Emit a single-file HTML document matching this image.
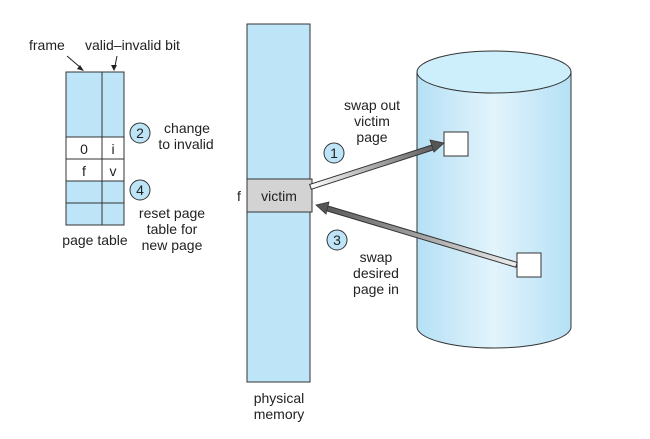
<!DOCTYPE html>
<html><head><style>
body{margin:0;background:#fff;}
svg text{font-family:"Liberation Sans",sans-serif;font-size:14px;fill:#222;}
</style></head><body>
<svg width="650" height="434" viewBox="0 0 650 434" xmlns="http://www.w3.org/2000/svg">
<defs>
<linearGradient id="cyl" x1="0" x2="1" y1="0" y2="0">
<stop offset="0" stop-color="#b5e0f5"/><stop offset="0.5" stop-color="#e2f4fc"/><stop offset="1" stop-color="#b5e0f5"/>
</linearGradient>
<linearGradient id="a1" gradientUnits="userSpaceOnUse" x1="310" y1="187" x2="440" y2="145"><stop offset="0" stop-color="#fff"/><stop offset="1" stop-color="#555"/></linearGradient>
<linearGradient id="a3" gradientUnits="userSpaceOnUse" x1="517" y1="265" x2="320" y2="206"><stop offset="0" stop-color="#eee"/><stop offset="1" stop-color="#555"/></linearGradient>
</defs>
<!-- page table -->
<rect x="66" y="72" width="58" height="153" fill="#bde5f7" stroke="#333"/>
<rect x="66" y="137" width="58" height="44" fill="#fff" stroke="#333"/>
<line x1="102" y1="72" x2="102" y2="225" stroke="#333"/>
<line x1="66" y1="159" x2="124" y2="159" stroke="#333"/>
<line x1="66" y1="203" x2="124" y2="203" stroke="#333"/>
<text x="84" y="154" text-anchor="middle">0</text><text x="113" y="154" text-anchor="middle">i</text>
<text x="84" y="176" text-anchor="middle">f</text><text x="113" y="176" text-anchor="middle">v</text>
<text x="29" y="50">frame</text><text x="85" y="50">valid–invalid bit</text>
<line x1="67" y1="56" x2="81" y2="68" stroke="#222"/><path d="M84,71 l-7,-2 3,-4z" fill="#222"/>
<line x1="117" y1="56" x2="115" y2="66" stroke="#222"/><path d="M114,71 l-3,-6 6,0z" fill="#222"/>
<text x="95" y="245" text-anchor="middle">page table</text>
<circle cx="140" cy="133" r="10" fill="#bde5f7" stroke="#333"/><text x="140" y="138" text-anchor="middle">2</text>
<text x="187" y="133" text-anchor="middle">change</text><text x="186" y="149" text-anchor="middle">to invalid</text>
<circle cx="140" cy="190" r="10" fill="#bde5f7" stroke="#333"/><text x="140" y="195" text-anchor="middle">4</text>
<text x="172" y="218" text-anchor="middle">reset page</text><text x="172" y="234" text-anchor="middle">table for</text><text x="172" y="250" text-anchor="middle">new page</text>
<!-- physical memory -->
<rect x="247" y="24" width="63" height="358" fill="#bde5f7" stroke="#333"/>
<rect x="247" y="179" width="65" height="33" fill="#d3d3d3" stroke="#333"/>
<text x="279" y="201" text-anchor="middle">victim</text><text x="237" y="201">f</text>
<text x="279" y="403" text-anchor="middle">physical</text><text x="279" y="419" text-anchor="middle">memory</text>
<!-- cylinder -->
<path d="M417,72 L417,327 A77,21 0 0 0 571,327 L571,72 Z" fill="url(#cyl)" stroke="#333"/>
<ellipse cx="494" cy="72" rx="77" ry="21" fill="#cdeefb" stroke="#333"/>
<rect x="444" y="132" width="24" height="24" fill="#fff" stroke="#333"/>
<rect x="517" y="253" width="24" height="24" fill="#fff" stroke="#333"/>
<!-- arrows -->
<line x1="310" y1="187" x2="434" y2="147" stroke="#333" stroke-width="6"/>
<line x1="311" y1="186.7" x2="434" y2="147" stroke="url(#a1)" stroke-width="4"/>
<polygon points="444,143 430,140 434,152" fill="#555" stroke="#333" stroke-width="0.8"/>
<line x1="517" y1="265" x2="326" y2="208" stroke="#333" stroke-width="6"/>
<line x1="516" y1="264.7" x2="326" y2="208" stroke="url(#a3)" stroke-width="4"/>
<polygon points="316,205 329,202 326,214" fill="#555" stroke="#333" stroke-width="0.8"/>
<circle cx="334" cy="153" r="10" fill="#bde5f7" stroke="#333"/><text x="334" y="158" text-anchor="middle">1</text>
<text x="372" y="110" text-anchor="middle">swap out</text><text x="372" y="126" text-anchor="middle">victim</text><text x="372" y="142" text-anchor="middle">page</text>
<circle cx="337" cy="240" r="10" fill="#bde5f7" stroke="#333"/><text x="337" y="245" text-anchor="middle">3</text>
<text x="376" y="262" text-anchor="middle">swap</text><text x="376" y="278" text-anchor="middle">desired</text><text x="376" y="294" text-anchor="middle">page in</text>
</svg>
</body></html>
